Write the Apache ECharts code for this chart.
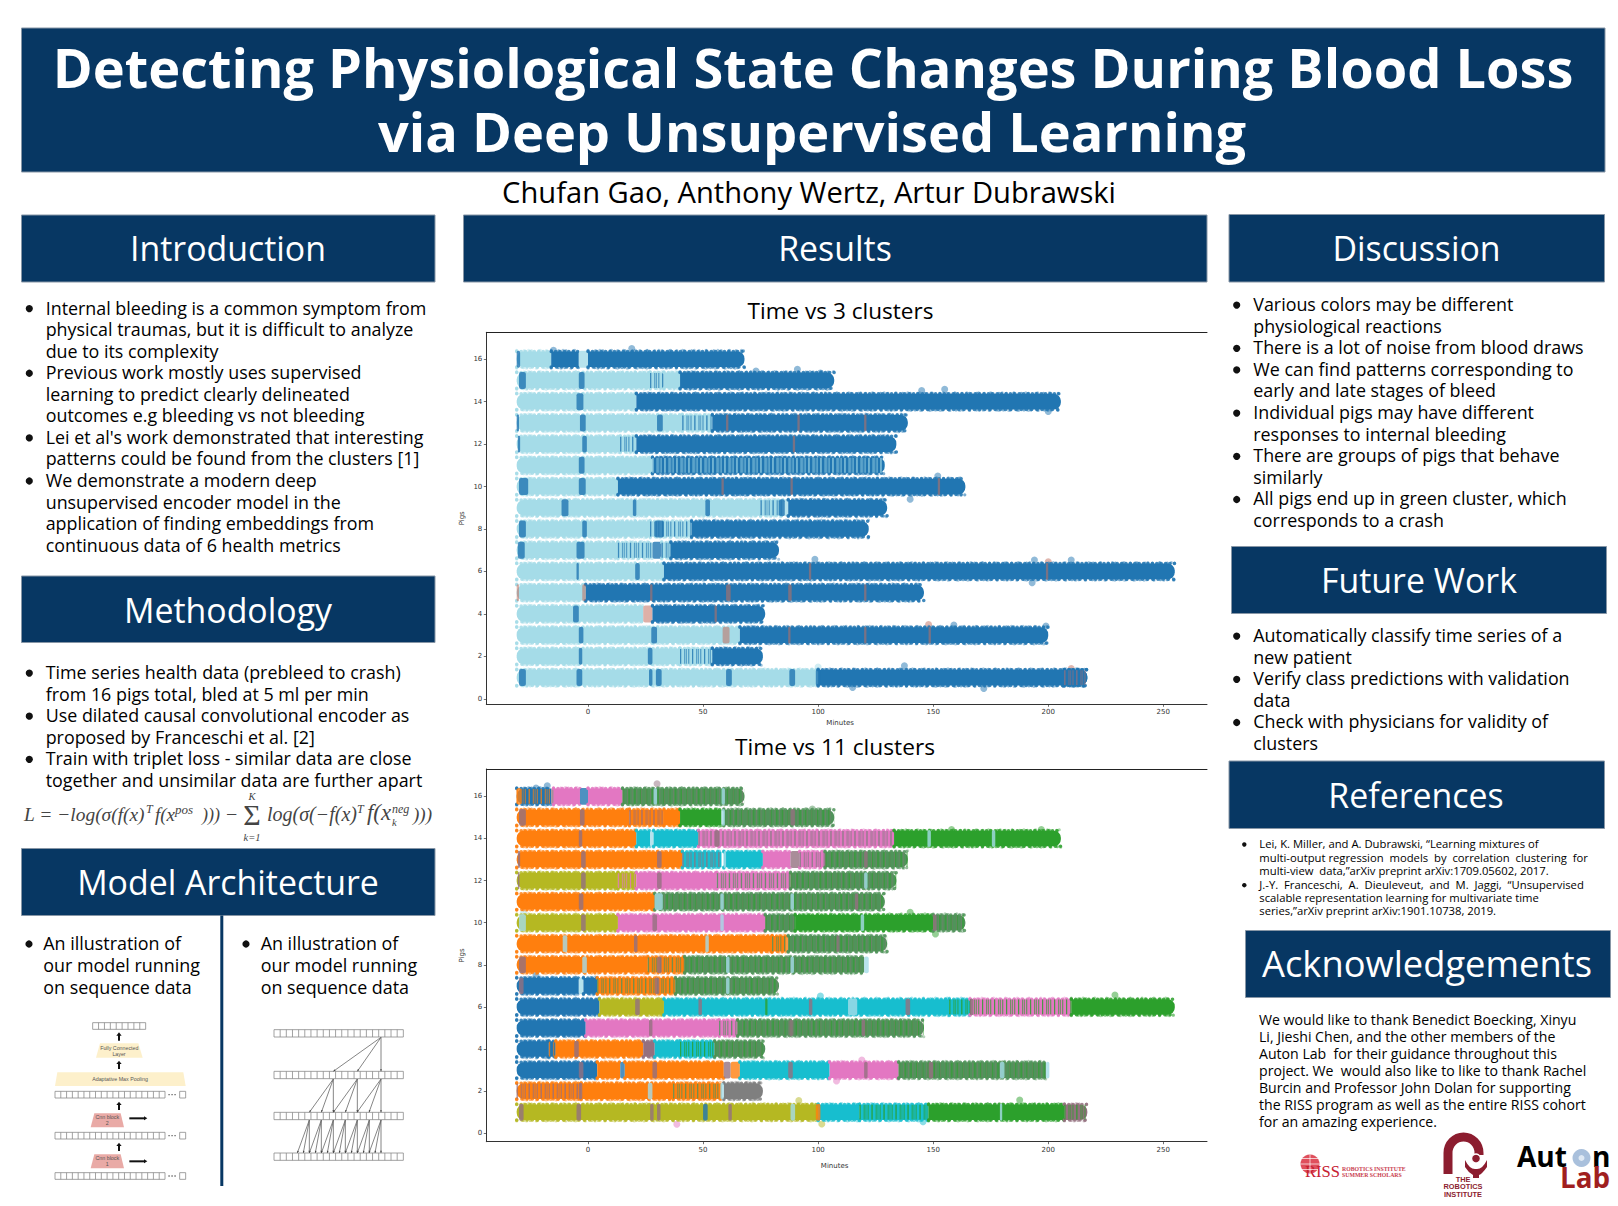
<!DOCTYPE html>
<html><head><meta charset="utf-8">
<style>html,body{margin:0;padding:0;background:#fff}#c{width:1618px;height:1206px}</style>
<script src="https://cdn.jsdelivr.net/npm/echarts@6/dist/echarts.min.js"></script>
</head><body><div id="c"></div>
<script>
// ---------- chart values (minutes) ----------
const minuteTicks = [0, 50, 100, 150, 200, 250];
const pigTicks = [0, 2, 4, 6, 8, 10, 12, 14, 16];
const clusterColors = ['#2176b2','#ff7f0e','#2ca02c','#50935a','#e377c2','#b5b822','#17becf','#a5dce8','#7f7f7f','#94707f','#c2705f'];
const B=0,O=1,G=2,M=3,P=4,Y=5,C=6,L=7,A=8,V=9,R=10,N=-1;
// [pig, start minute, end minute, cluster, mixed-in cluster]
const threeClusterSpans = [
[16,-31,-16,L,N],[16,-16,-4,B,N],[16,-4,0,L,N],[16,0,68,B,N],[16,-31,-29.5,B,N],
[15,-31,27,L,N],[15,27,33,L,B],[15,33,40,L,N],[15,40,107,B,N],[15,-30,-27,B,N],[15,-4,-1.5,B,N],
[14,-31,21,L,N],[14,21,205.5,B,N],[14,-5,-2,B,N],
[13,-31,41,L,N],[13,41,54,L,B],[13,54,139,B,N],[13,-31,-30,B,N],[13,-3.5,-1,B,N],[13,30,32.5,B,N],[13,60,61,R,N],[13,91,92,R,N],[13,120,121,R,N],
[12,-31,14,L,N],[12,14,21,L,B],[12,21,134,B,N],[12,-30.5,-29.5,B,N],[12,-2.5,-0.5,B,N],[12,89,90,R,N],
[11,-31,28,L,N],[11,28,129,B,L],[11,-4,-1.5,B,N],
[10,-31,13,L,N],[10,13,164,B,N],[10,-30,-26,B,N],[10,-4,-1,B,N],[10,58,59,R,N],[10,88,89,R,N],[10,152,153,R,N],
[9,-31,75,L,N],[9,75,85,L,B],[9,85,87,L,N],[9,87,130,B,N],[9,-11.5,-8.5,B,N],[9,19.5,21,B,N],[9,51,53,B,N],[9,83,85.5,B,N],
[8,-31,27,L,N],[8,27,45,L,B],[8,45,122,B,N],[8,-30,-27,B,N],[8,-2.5,-0.5,B,N],[8,29,33,B,N],
[7,-31,13,L,N],[7,13,28,L,B],[7,28,32,B,N],[7,32,36,L,B],[7,36,83,B,N],[7,-30.5,-27.5,B,N],[7,-5,-1.5,B,N],
[6,-31,33,L,N],[6,33,255,B,N],[6,20.5,22.5,B,N],[6,-5,-4,B,N],[6,96,97,R,N],[6,199,200,R,N],
[5,-31,-1,L,N],[5,-1,146,B,N],[5,-31,-30,R,N],[5,-2.5,-1,R,N],[5,27,28,R,N],[5,60,62,R,N],[5,87,88.5,R,N],[5,120,121,R,N],
[4,-31,24,L,N],[4,24,28,R,N],[4,28,77,B,N],[4,-6.5,-4,B,N],[4,55,56,R,N],
[3,-31,66,L,N],[3,66,200,B,N],[3,-4,-2,B,N],[3,27.5,30,B,N],[3,58.5,61.5,R,N],[3,87,88,R,N],[3,120,121,R,N],[3,148,149,R,N],
[2,-31,40,L,N],[2,40,54,L,B],[2,54,76,B,N],[2,-4,-2.5,B,N],[2,26,28,B,N],
[1,-31,100,L,N],[1,100,217,B,N],[1,-30,-27,B,N],[1,-5,-2.5,B,N],[1,26.5,28,B,N],[1,29.5,32,B,N],[1,60,62.5,B,N],[1,87.5,90,B,N],[1,99,101,B,N],[1,207,217,B,V]
];
const elevenClusterSpans = [
[16,-31,-16,B,O],[16,-16,-14.5,V,N],[16,-15,-3.5,P,N],[16,-3.5,0,B,N],[16,0,15,P,N],[16,15,68,M,N],[16,28.5,30,L,N],[16,58,59.5,L,N],[16,-31,-29,O,N],
[15,-31,18,O,N],[15,18,33,O,V],[15,33,40,O,N],[15,40,58,G,N],[15,59,107,M,N],[15,-30,-27,V,N],[15,-3.5,-1.5,V,N],[15,88,90,V,N],[15,58,59.5,L,N],
[14,-31,21,O,N],[14,21,27,C,N],[14,27,28.5,L,N],[14,28.5,48,C,N],[14,48,133,P,A],[14,133,205.5,G,N],[14,-4,-2.5,V,N],[14,55,57,V,N],[14,147.5,149,L,N],[14,175.5,177,L,N],
[13,-31,41,O,N],[13,41,58,C,V],[13,59,76,C,N],[13,76,88,P,N],[13,88,92,V,N],[13,92,103,P,A],[13,103,139,M,N],[13,-30.5,-29.5,V,N],[13,-3,-1,V,N],[13,30,32,V,N],[13,120,121.5,V,N],[13,59,60,L,N],
[12,-31,13,Y,N],[12,13,21,Y,P],[12,21,56,P,N],[12,56,88,P,M],[12,88,134,M,N],[12,-3,-1,V,N],[12,30,32,V,N],[12,120,121.5,L,N],[12,-30.5,-30,V,N],
[11,-31,29,O,N],[11,29,129,M,N],[11,-4,-2,V,N],[11,29,32.5,L,N],[11,57.5,59,L,N],[11,88,89.5,L,N],[11,116,117.5,V,N],
[10,-31,13,Y,N],[10,13,77,P,N],[10,77,90,M,N],[10,90,150,G,N],[10,150,164,M,N],[10,-30,-27,L,N],[10,-3,-1,V,N],[10,28,30,V,N],[10,57.5,59,L,N],[10,118.5,120,L,N],[10,150,151.5,V,N],
[9,-31,80,O,N],[9,80,86,O,M],[9,86,87,O,N],[9,87,130,M,N],[9,-11,-9,L,N],[9,20,21.5,V,N],[9,51,52.5,L,N],[9,108,109,V,N],
[8,-31,26,O,N],[8,26,42,O,M],[8,42,120,M,N],[8,120,122,L,N],[8,-30,-27,V,N],[8,-2.5,-0.5,L,N],[8,30,32,V,N],[8,60,61.5,L,N],[8,88,89.5,L,N],
[7,-31,-4,B,N],[7,-4,-2,L,N],[7,-2,4,B,N],[7,4,38,O,M],[7,38,83,M,N],[7,-30,-28,V,N],[7,29,31,V,N],[7,60,61.5,L,N],
[6,-31,5,B,N],[6,5,33,Y,N],[6,33,157,C,N],[6,157,166,C,G],[6,166,210,P,G],[6,210,255,G,N],[6,20.5,22.5,V,N],[6,48,49.5,V,N],[6,77,78,G,N],[6,96,97.5,V,N],[6,113,117,L,N],[6,138,140,V,N],[6,166,167.5,V,N],
[5,-31,-1,B,N],[5,-1,57,P,N],[5,57,65,P,M],[5,65,146,M,N],[5,26.5,28,V,N],[5,87.5,89,V,N],[5,119,120.5,V,N],
[4,-31,-17,B,N],[4,-17,-14,B,O],[4,-14,24,O,N],[4,24,29,V,N],[4,29,40,C,N],[4,40,55,C,G],[4,55,77,M,N],[4,-6,-4,V,N],
[3,-31,4,B,N],[3,4,14,O,N],[3,14,16,B,N],[3,16,59,O,N],[3,59,62,V,N],[3,62,66,O,N],[3,66,105,C,N],[3,105,135,P,N],[3,135,199,M,N],[3,199,200.5,L,N],[3,-4,-2,V,N],[3,28,30,V,N],[3,87,89,V,N],[3,120,121.5,V,N],[3,148,150,V,N],[3,179,181,L,N],
[2,-31,-3,O,V],[2,-3,37,O,N],[2,37,58,O,M],[2,59,76,A,N],[2,-4,-2.5,V,N],[2,26,28,L,N],[2,57.5,59,L,N],
[1,-31,100,Y,N],[1,100,118,C,N],[1,118,148,C,G],[1,148,207,G,N],[1,207,217,V,G],[1,-30,-28,V,N],[1,-5,-3,V,N],[1,27,28.5,V,N],[1,30,31.5,V,N],[1,50,52,B,N],[1,61,62.5,V,N],[1,88,90,L,N],[1,99,101,O,N],[1,179,180,L,N]
];
// [minute, pig axis value, cluster]: stray points outside the bands
const threeClusterStrays = [[-15,16.42,B],[19,16.5,B],[91,15.53,B],[73,15.45,B],[101,15.35,B],[155,14.59,B],[145,14.53,B],[200,13.54,B],[152,10.5,B],[140,9.4,B],[194,6.54,B],[200,6.46,R],[210,6.54,B],[98.6,6.57,B],[193,5.47,B],[148,3.5,R],[159,3.47,B],[199,3.43,B],[137.5,1.56,B],[210,1.43,R],[172,0.49,B],[115,0.53,B],[100,1.5,L]];
const elevenClusterStrays = [[30,16.6,V],[-22.6,16.4,B],[-17.7,16.5,B],[97.5,15.4,M],[158,14.43,G],[197,14.43,G],[187.6,1.58,G],[101.6,0.44,Y],[91.6,1.55,Y],[38.6,0.43,P],[145.6,0.55,C],[108,2.48,P],[229,6.57,G],[101,6.52,C],[151,9.46,G],[140,10.5,G],[-28,10.5,L],[-22.6,7.5,B],[119,3.48,P]];

// ---------- poster text ----------
const titleLines = ['Detecting Physiological State Changes During Blood Loss','via Deep Unsupervised Learning'];
const authors = 'Chufan Gao, Anthony Wertz, Artur Dubrawski';
const introLines = [['•','Internal bleeding is a common symptom from'],['','physical traumas, but it is difficult to analyze'],['','due to its complexity'],['•','Previous work mostly uses supervised'],['','learning to predict clearly delineated'],['','outcomes e.g bleeding vs not bleeding'],['•',"Lei et al's work demonstrated that interesting"],['','patterns could be found from the clusters [1]'],['•','We demonstrate a modern deep'],['','unsupervised encoder model in the'],['','application of finding embeddings from'],['','continuous data of 6 health metrics']];
const methodLines = [['•','Time series health data (prebleed to crash)'],['','from 16 pigs total, bled at 5 ml per min'],['•','Use dilated causal convolutional encoder as'],['','proposed by Franceschi et al. [2]'],['•','Train with triplet loss - similar data are close'],['','together and unsimilar data are further apart']];
const discussionLines = [['•','Various colors may be different'],['','physiological reactions'],['•','There is a lot of noise from blood draws'],['•','We can find patterns corresponding to'],['','early and late stages of bleed'],['•','Individual pigs may have different'],['','responses to internal bleeding'],['•','There are groups of pigs that behave'],['','similarly'],['•','All pigs end up in green cluster, which'],['','corresponds to a crash']];
const futureLines = [['•','Automatically classify time series of a'],['','new patient'],['•','Verify class predictions with validation'],['','data'],['•','Check with physicians for validity of'],['','clusters']];
const referenceLines = [['•','Lei, K. Miller, and A. Dubrawski, “Learning mixtures of'],['','multi-output regression\u00a0 models\u00a0 by\u00a0 correlation\u00a0 clustering\u00a0 for'],['','multi-view\u00a0 data,”arXiv preprint arXiv:1709.05602, 2017.'],['•','J.-Y.\u00a0 Franceschi,\u00a0 A.\u00a0 Dieuleveut,\u00a0 and\u00a0 M.\u00a0 Jaggi,\u00a0 “Unsupervised'],['','scalable representation learning for multivariate time'],['','series,”arXiv preprint arXiv:1901.10738, 2019.']];
const ackLines = ['We would like to thank Benedict Boecking, Xinyu','Li, Jieshi Chen, and the other members of the','Auton Lab\u00a0 for their guidance throughout this','project. We\u00a0 would also like to like to thank Rachel','Burcin and Professor John Dolan for supporting','the RISS program as well as the entire RISS cohort','for an amazing experience.'];

// ---------- helpers ----------
const NAVY = '#073763', OS = '"Open Sans"';
const mctx = document.createElement('canvas').getContext('2d');
function sizeFor(t, w, weight, fam, style) { mctx.font = `${style||''} ${weight||400} 100px ${fam||OS}`; return w / mctx.measureText(t).width * 100; }
const g = [], pathEls = [];
function text(t, x, base, size, o) { o = o || {};
  const fam = o.fam || OS;
  g.push({type:'text', silent:true, style:{text:t, x:x, y:base-(o.cent==null?0.388:o.cent)*size, font:`${o.style||''} ${o.weight||400} ${size}px ${fam}`, fill:o.fill||'#000', align:o.align||'left', verticalAlign:'middle'}});
}
function rect(x1,y1,x2,y2,fill,stroke){ g.push({type:'rect',silent:true,shape:{x:x1,y:y1,width:x2-x1,height:y2-y1},style:{fill:fill,stroke:stroke||null,lineWidth:stroke?1:0}}); }
function banner(x1,y1,x2,y2,label,cx,base,size){ rect(x1,y1,x2,y2,NAVY,'#8796a6'); text(label,cx,base,size,{fill:'#fff',align:'center'}); }
function bullet(x,y,r){ g.push({type:'circle',silent:true,shape:{cx:x,cy:y,r:r},style:{fill:'#111'}}); }
function list(lines,xB,xT,base0,pitch,size,r){ lines.forEach((l,i)=>{ const b=base0+i*pitch; if(l[0]) bullet(xB,b-size*0.33,r); text(l[1],xT,b,size); }); }
function path(d,style){ pathEls.push({type:'path',silent:true,shape:{pathData:d},style:style}); }
function poly(pts,fill){ g.push({type:'polygon',silent:true,shape:{points:pts},style:{fill:fill}}); }

// ---------- banners & text ----------
const sTitle = sizeFor(titleLines[0],1521,700);
const sHead = sizeFor('Introduction',196);
const sBody = sizeFor('Internal bleeding is a common symptom from',381);
rect(21.5,28,1605,172,NAVY,'#8796a6');
text(titleLines[0],813,87.5,sTitle,{fill:'#fff',align:'center',weight:700});
text(titleLines[1],812,152,sTitle,{fill:'#fff',align:'center',weight:700});
text(authors,809,203,sizeFor(authors,614),{align:'center',fill:'#000'});
banner(21.5,215,435,282,'Introduction',228,261,sHead);
banner(463.5,215,1207,282,'Results',835,261,sHead);
banner(21.5,576,435,642.5,'Methodology',228,623,sHead);
banner(21.5,848.5,435,915.5,'Model Architecture',228,895,sHead);
banner(1229,214.5,1604.5,282,'Discussion',1416.5,261,sHead);
banner(1231.5,546.5,1606.5,613.5,'Future Work',1419,592.7,sHead);
banner(1229,761,1604.5,828.5,'References',1416,807.7,sHead);
banner(1245.5,930.5,1610.5,997.5,'Acknowledgements',1427,976.7,sizeFor('Acknowledgements',330));
list(introLines,29.3,45.7,314.5,21.55,sBody,3.6);
list(methodLines,29.3,45.7,679,21.55,sBody,3.6);
list(discussionLines,1236.7,1253.3,311,21.6,sBody,3.6);
list(futureLines,1236.7,1253.3,642,21.6,sBody,3.6);
const sRef = sizeFor('scalable representation learning for multivariate time',280);
[848.3,862.3,875,889,902,915].forEach((b,i)=>{ const l=referenceLines[i]; if(l[0]) bullet(1244.3,b-3.8,2.2); text(l[1],1259.3,b,sRef); });
const sAck = sizeFor(ackLines[5],327);
ackLines.forEach((l,i)=>text(l,1259,1025+i*17,sAck));
const sModel = sizeFor('our model running',156.7);
['An illustration of','our model running','on sequence data'].forEach((l,i)=>{
  text(l,43.3,950+i*22,sModel); text(l,260.7,950+i*22,sModel);
});
bullet(29,944,3.6); bullet(246,944,3.6);
rect(220.3,915.5,223.3,1186,NAVY);
text('Time vs 3 clusters',840.5,319.3,sizeFor('Time vs 3 clusters',186),{align:'center',fill:'#000'});
text('Time vs 11 clusters',835,755.7,sizeFor('Time vs 11 clusters',200),{align:'center',fill:'#000'});

// ---------- formula ----------
const SER='"Liberation Serif"', FB=821.7, FC='#444';
function F(t,x,o){ o=o||{}; text(t,x,FB+(o.dy||0),o.size,{fam:SER,style:o.up?'':'italic',fill:FC,align:o.align||'left'}); }
const fw=(t,w)=>sizeFor(t,w,400,SER,'italic');
F('L = −log(σ(f(x)',24,{size:fw('L = −log(σ(f(x)',121)});
F('T',146,{size:12,dy:-8});
F('f(x',155,{size:fw('f(x',20)});
F('pos',175,{size:13,dy:-7});
F(')))',202,{size:fw(')))',18)});
F('−',226,{up:1,size:20});
F('Σ',252,{size:30,up:1,align:'center',dy:4});
F('K',252,{size:10.5,align:'center',dy:-21.5});
F('k=1',252,{size:10.5,align:'center',dy:19.5});
F('log(σ(−f(x)',267,{size:fw('log(σ(−f(x)',90)});
F('T',357,{size:12,dy:-8});
F('f(x',367,{size:fw('f(x',24)});
F('neg',392,{size:12,dy:-8});
F('k',392,{size:10.5,dy:5});
F(')))',413,{size:fw(')))',19)});

// ---------- model diagrams (zoom units / 3) ----------
const Z=v=>v/3, ZY=v=>900+v/3;
function cells(x1,x2,y1,y2,n){ let d=`M${Z(x1)} ${ZY(y1)}H${Z(x2)}V${ZY(y2)}H${Z(x1)}Z`;
  for(let i=1;i<n;i++){ const x=Z(x1+(x2-x1)*i/n); d+=`M${x} ${ZY(y1)}V${ZY(y2)}`; }
  path(d,{fill:null,stroke:'#8a8a8a',lineWidth:0.8}); }
function upArrow(x,y1,y2){ path(`M${Z(x)} ${ZY(y2)}V${ZY(y1+8)}`,{stroke:'#111',lineWidth:2,fill:null});
  poly([[Z(x-8),ZY(y1+10)],[Z(x+8),ZY(y1+10)],[Z(x),ZY(y1)]],'#111'); }
function rightArrow(x1,x2,y){ path(`M${Z(x1)} ${ZY(y)}H${Z(x2-8)}`,{stroke:'#111',lineWidth:2,fill:null});
  poly([[Z(x2-10),ZY(y-6)],[Z(x2-10),ZY(y+6)],[Z(x2),ZY(y)]],'#111'); }
function trap(tl,tr,bl,br,y1,y2,fill){ poly([[Z(tl),ZY(y1)],[Z(tr),ZY(y1)],[Z(br),ZY(y2)],[Z(bl),ZY(y2)]],fill); }
function lab(t,cx,y){ text(t,Z(cx),ZY(y),5.3,{fam:'"Liberation Sans"',align:'center',fill:'#555',cent:0.35}); }
cells(278,437,368,388,9);
upArrow(357,397,422);
trap(300,415,288,428,430,473,'#fdf0cb'); lab('Fully Connected',358,450); lab('Layer',357,468);
upArrow(357,482,507);
trap(172,550,165,557,517,558,'#fdf0cb'); lab('Adaptative Max Pooling',360,543);
[[574,594],[697,717],[818,838]].forEach(r=>{ cells(165,495,r[0],r[1],19);
  path(`M${Z(505)} ${ZY((r[0]+r[1])/2)}H${Z(532)}`,{stroke:'#777',lineWidth:1.4,lineDash:[1.5,1.5],fill:null});
  cells(539,557,r[0],r[1],1); });
upArrow(357,605,630);
trap(283,362,272,372,640,682,'#e9aaa6'); lab('Cnn block',322,657); lab('2',322,676);
rightArrow(388,442,655);
upArrow(357,728,753);
trap(283,362,272,372,763,805,'#e9aaa6'); lab('Cnn block',322,780); lab('1',322,799);
rightArrow(388,442,784);
[[389,411],[514,536],[637,659],[759,781]].forEach(r=>cells(822,1210,r[0],r[1],21));
let fan='', heads='';
function arrowTo(x1,y1,x2,y2){ fan+=`M${Z(x1)} ${ZY(y1)}L${Z(x2)} ${ZY(y2)}`;
  const a=Math.atan2(y2-y1,x2-x1), s=7; heads+=`M${Z(x2)} ${ZY(y2)}L${Z(x2-s*Math.cos(a-.4))} ${ZY(y2-s*Math.sin(a-.4))}L${Z(x2-s*Math.cos(a+.4))} ${ZY(y2-s*Math.sin(a+.4))}Z`; }
[1000,1072,1143].forEach(x=>arrowTo(1143,412,x,514));
[1000,1072,1143].forEach(s=>[72,36,0].forEach(dx=>arrowTo(s,537,s-dx,637)));
[928,964,1000,1036,1072,1108,1143].forEach(s=>[36,18,0].forEach(dx=>arrowTo(s,660,s-dx,759)));
path(fan,{stroke:'#666',lineWidth:0.8,fill:null}); path(heads,{fill:'#444'});

// ---------- logos ----------
const MAROON='#8c1d2f', LIB='"Liberation Sans"';
g.push({type:'circle',silent:true,shape:{cx:1310,cy:1164,r:9.5},style:{fill:'#d9303f',opacity:.85}});
path('M1300.5 1164H1319.5M1310 1154.5V1173.5M1302 1158.5H1318M1302 1169.5H1318',{stroke:'#fff',lineWidth:.7,fill:null});
text('RISS',1305,1178,16.5,{fam:SER,fill:'#c62032'});
text('ROBOTICS INSTITUTE',1342,1171.5,5.8,{fam:SER,fill:'#c94050',weight:700});
text('SUMMER SCHOLARS',1342,1177.5,5.8,{fam:SER,fill:'#c94050',weight:700});
path('M1448 1174V1153A15.5 16 0 0 1 1479 1153V1155',{stroke:MAROON,lineWidth:9,fill:null});
path('M1465 1160Q1470 1170 1476 1169Q1482 1170 1487 1160L1487 1167Q1482 1174 1479 1175V1178H1473V1175Q1468 1172 1465 1167Z',{fill:MAROON});
pathEls.push({type:'circle',silent:true,shape:{cx:1476,cy:1158.5,r:4.5},style:{fill:MAROON,stroke:'#fff',lineWidth:1.4}});
const sRI=sizeFor('ROBOTICS',39,700,LIB);
['THE','ROBOTICS','INSTITUTE'].forEach((l,i)=>text(l,1463,1182+i*7.8,sRI,{fam:LIB,weight:700,fill:MAROON,align:'center'}));
text('Aut',1517,1166.7,sizeFor('Aut',50,700),{weight:700,fill:'#000'});
g.push({type:'circle',silent:true,shape:{cx:1581.5,cy:1158,r:9},style:{fill:'#a9c0dc'}});
g.push({type:'circle',silent:true,shape:{cx:1581.5,cy:1158,r:3},style:{fill:'#dfe9f4'}});
text('n',1592,1166.7,sizeFor('Aut',50,700),{weight:700,fill:'#000'});
text('Lab',1560,1188,sizeFor('Lab',50,700),{weight:700,fill:'#a01f1f'});

// ---------- charts ----------
function rows(spans){ const mx={}, mn={}; spans.forEach(s=>{ mx[s[0]]=Math.max(mx[s[0]]??-1e9,s[2]); mn[s[0]]=Math.min(mn[s[0]]??1e9,s[1]); }); return {mx,mn}; }
function bandRenderer(spans){ const ext=rows(spans);
  return function(params,api){
    const s=spans[params.dataIndex];
    const pig=api.value(0), a=api.coord([api.value(1),pig]), b=api.coord([api.value(2),pig]);
    const unit=Math.abs(api.coord([0,pig+1])[1]-a[1]);
    const col=clusterColors[s[3]], x1=a[0], x2=b[0], y=a[1], w=x2-x1, ch=[];
    const line=(dy,dash,lw,color,op,cap)=>({type:'line',shape:{x1:x1,y1:y+dy*unit,x2:x2,y2:y+dy*unit},
      style:{stroke:color,lineWidth:lw,lineDash:dash,lineCap:cap||'round',opacity:op,fill:null}});
    if(s[2]-s[1]<5 && s[4]<0){
      const red=s[3]===R;
      ch.push({type:'rect',shape:{x:x1,y:y-0.4*unit,width:Math.max(w,1.6),height:0.8*unit,r:2},style:{fill:col,opacity:red?.55:.8}});
    } else {
      const rl=s[1]===ext.mn[s[0]]?7:0, rr=s[2]===ext.mx[s[0]]?7:0;
      [[-1,0.37,[0.1,4.3],3.5,.85],[1,0.37,[0.1,5.1],3.5,.85],[-1,0.39,[0.1,7.3],3.2,.6],[1,0.39,[0.1,6.7],3.2,.6],[-1,0.42,[0.1,11.7],3,.4],[1,0.42,[0.1,9.7],3,.4]]
        .forEach(e=>ch.push(line(e[0]*e[1],e[2],e[3],col,e[4])));
      ch.push({type:'rect',shape:{x:x1,y:y-0.37*unit,width:w,height:0.74*unit,r:[rl,rr,rr,rl]},style:{fill:col}});
      const sw=0.7*unit;
      if(s[4]>=0){ const m=clusterColors[s[4]];
        ch.push(line(0,[1.3,2.7],sw,m,.6,'butt'),line(0,[0.8,5.2],sw,m,.7,'butt'));
      } else if(s[3]===M){
        ch.push(line(0,[1.6,4.2],sw,clusterColors[G],.55,'butt'),line(0,[1,3.6],sw,clusterColors[V],.4,'butt'));
      }
    }
    return {type:'group',children:ch};
  };
}
const xMin=-44.2, xMax=269;
const layouts=[{top:332.3,h:372,yMin:-0.26,yMax:17.27,nameGap:15},{top:769,h:372.7,yMin:-0.4,yMax:17.3,nameGap:21}];
const tickFont={fontFamily:'"DejaVu Sans"',fontSize:7,color:'#333'};
const opt={animation:false,backgroundColor:'#fff',graphic:{elements:g},grid:[],xAxis:[],yAxis:[],series:[]};
layouts.forEach((l,i)=>{
  const spans=i?elevenClusterSpans:threeClusterSpans, strays=i?elevenClusterStrays:threeClusterStrays;
  opt.grid.push({left:486.3,width:720.7,top:l.top,height:l.h,containLabel:false});
  opt.xAxis.push({type:'value',gridIndex:i,min:xMin,max:xMax,name:'Minutes',nameLocation:'middle',nameGap:l.nameGap,
    nameTextStyle:{...tickFont,padding:[0,i?24:13,0,0]},splitLine:{show:false},
    axisLine:{show:true,onZero:false,lineStyle:{color:'#333',width:1}},
    axisTick:{show:true,length:2.5,customValues:minuteTicks,lineStyle:{color:'#333',width:.7}},
    axisLabel:{...tickFont,margin:4.5,customValues:minuteTicks,hideOverlap:false}});
  opt.xAxis.push({type:'value',gridIndex:i,position:'top',min:xMin,max:xMax,splitLine:{show:false},
    axisLine:{show:true,onZero:false,lineStyle:{color:'#222',width:1}},axisTick:{show:false},axisLabel:{show:false}});
  opt.yAxis.push({type:'value',gridIndex:i,min:l.yMin,max:l.yMax,name:'Pigs',nameLocation:'middle',nameGap:21,
    nameTextStyle:tickFont,splitLine:{show:false},
    axisLine:{show:true,onZero:false,lineStyle:{color:'#333',width:1}},
    axisTick:{show:true,length:2.5,customValues:pigTicks,lineStyle:{color:'#333',width:.7}},
    axisLabel:{...tickFont,margin:4,customValues:pigTicks}});
  opt.series.push({type:'scatter',xAxisIndex:i*2,yAxisIndex:i,symbolSize:7,silent:true,z:1,
    data:strays.map(p=>({value:[p[0],p[1]],itemStyle:{color:clusterColors[p[2]],opacity:.5}}))});
  opt.series.push({type:'custom',xAxisIndex:i*2,yAxisIndex:i,silent:true,z:2,clip:true,
    renderItem:bandRenderer(spans),encode:{x:[1,2],y:0},data:spans.map(s=>[s[0],s[1],s[2]])});
});
// outlines of the poster's illustrations and logos (not chart data)
opt.series.push({type:'custom',coordinateSystem:'none',silent:true,z:3,data:[[0]],
  renderItem:()=>({type:'group',children:pathEls})});
const chart=echarts.init(document.getElementById('c'),null,{renderer:'svg',width:1618,height:1206});
chart.setOption(opt);
</script></body></html>
